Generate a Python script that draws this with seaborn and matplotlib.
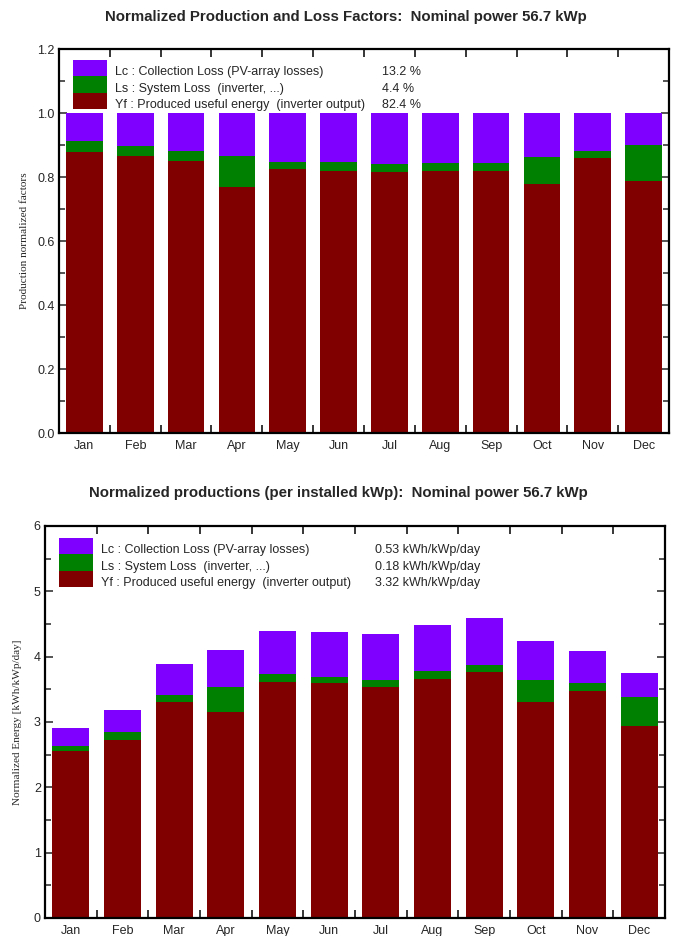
import numpy as np
import pandas as pd
import matplotlib
matplotlib.use("Agg")
import matplotlib.pyplot as plt
from matplotlib.patches import Patch
from matplotlib.transforms import ScaledTranslation
from matplotlib.ticker import MultipleLocator, FixedLocator, FormatStrFormatter
import seaborn as sns

months = ["Jan", "Feb", "Mar", "Apr", "May", "Jun", "Jul", "Aug", "Sep", "Oct", "Nov", "Dec"]

# Normalized factors (fraction of nominal)
yf_frac = [0.879, 0.866, 0.851, 0.770, 0.824, 0.820, 0.817, 0.820, 0.820, 0.778, 0.858, 0.789]
yf_ls_frac = [0.911, 0.897, 0.880, 0.865, 0.848, 0.848, 0.842, 0.844, 0.844, 0.862, 0.882, 0.901]
total_frac = [1.0] * 12

# Normalized productions (kWh/kWp/day)
yf_energy = [2.56, 2.73, 3.31, 3.15, 3.61, 3.59, 3.54, 3.66, 3.77, 3.30, 3.48, 2.94]
yf_ls_energy = [2.64, 2.84, 3.41, 3.54, 3.73, 3.69, 3.64, 3.78, 3.87, 3.64, 3.59, 3.38]
total_energy = [2.91, 3.18, 3.89, 4.10, 4.40, 4.38, 4.35, 4.48, 4.59, 4.24, 4.08, 3.75]

legend_labels = ["Lc : Collection Loss (PV-array losses)",
                 "Ls : System Loss  (inverter, ...)",
                 "Yf : Produced useful energy  (inverter output)"]
legend_values_top = ["13.2 %", "4.4 %", "82.4 %"]
legend_values_bottom = ["0.53 kWh/kWp/day", "0.18 kWh/kWp/day", "3.32 kWh/kWp/day"]

title_top = "Normalized Production and Loss Factors:  Nominal power 56.7 kWp"
title_bottom = "Normalized productions (per installed kWp):  Nominal power 56.7 kWp"

C_LC = "#8000FF"
C_LS = "#008000"
C_YF = "#800000"

sns.set_style("white")
plt.rcParams["font.family"] = ["Liberation Sans", "DejaVu Sans"]

W, H = 676, 936
fig = plt.figure(figsize=(W / 100, H / 100), dpi=100)
ax1 = fig.add_axes([59 / W, 1 - 433 / H, 610 / W, 384 / H])
ax2 = fig.add_axes([45 / W, 1 - 918 / H, 620 / W, 392 / H])


def draw(ax, total, yfls, yf, ymax, major, minor, ylabel, ylab_x, values,
         leg_anchor, leg_val_x):
    df = pd.DataFrame({"month": months, "total": total, "yfls": yfls, "yf": yf})
    for col, c in (("total", C_LC), ("yfls", C_LS), ("yf", C_YF)):
        sns.barplot(data=df, x="month", y=col, order=months, color=c, saturation=1,
                    width=0.72, errorbar=None, linewidth=0, ax=ax)
    ax.set_xlim(-0.5, 11.5)
    ax.set_ylim(0, ymax)
    ax.set_xlabel("")
    ax.set_ylabel(ylabel, family=["Liberation Serif"], fontsize=8.1)
    ax.yaxis.set_label_coords(ylab_x, 0.5)
    ax.set_xticks(range(12))
    ax.set_xticklabels(months, fontsize=9)
    ax.xaxis.set_minor_locator(FixedLocator(np.arange(0.5, 11.5, 1)))
    ax.tick_params(axis="x", which="major", length=0, pad=5)
    ax.tick_params(axis="x", which="minor", direction="in", length=6, width=1.3,
                   top=True, bottom=True)
    ax.yaxis.set_major_locator(MultipleLocator(major))
    ax.yaxis.set_minor_locator(MultipleLocator(minor))
    ax.tick_params(axis="y", which="both", direction="in", left=True, right=True,
                   width=1.1, labelsize=9, pad=3)
    ax.tick_params(axis="y", which="major", length=6)
    ax.tick_params(axis="y", which="minor", length=4)
    for s in ax.spines.values():
        s.set_visible(True)
        s.set_color("black")
        s.set_linewidth(1.6)
    handles = [Patch(facecolor=C_LC, edgecolor="none"),
               Patch(facecolor=C_LS, edgecolor="none"),
               Patch(facecolor=C_YF, edgecolor="none")]
    leg = ax.legend(handles, legend_labels, loc="upper left", bbox_to_anchor=leg_anchor,
                    frameon=False, fontsize=9, handlelength=2.75, handleheight=1.65,
                    labelspacing=0.0, handletextpad=0.6, borderaxespad=0.0, borderpad=0.0)
    fig.canvas.draw()
    shift = ScaledTranslation(0, -3 / 100, fig.dpi_scale_trans)
    for t, v in zip(leg.get_texts(), values):
        bb = t.get_window_extent()
        yc = (bb.y0 + bb.y1) / 2 - 3
        t.set_transform(t.get_transform() + shift)
        _, ya = ax.transAxes.inverted().transform((0, yc))
        ax.text(leg_val_x, ya, v, transform=ax.transAxes, fontsize=9, va="center", ha="left")


draw(ax1, total_frac, yf_ls_frac, yf_frac, 1.2, 0.2, 0.1,
     "Production normalized factors", (29 - 59) / 610, legend_values_top,
     ((73 - 59) / 610, 1 - (60 - 49) / 384), (382 - 59) / 610)
draw(ax2, total_energy, yf_ls_energy, yf_energy, 6, 1, 0.5,
     "Normalized Energy [kWh/kWp/day]", (22 - 45) / 620, legend_values_bottom,
     ((59 - 45) / 620, 1 - (538 - 526) / 392), (375 - 45) / 620)

ax1.yaxis.set_major_formatter(FormatStrFormatter("%.1f"))

fig.text(346 / W, 1 - 17 / H, title_top, fontsize=10.8, fontweight="bold",
         ha="center", va="center")
fig.text(338 / W, 1 - 493 / H, title_bottom, fontsize=10.8, fontweight="bold",
         ha="center", va="center")

fig.savefig("out.png", dpi=100)
